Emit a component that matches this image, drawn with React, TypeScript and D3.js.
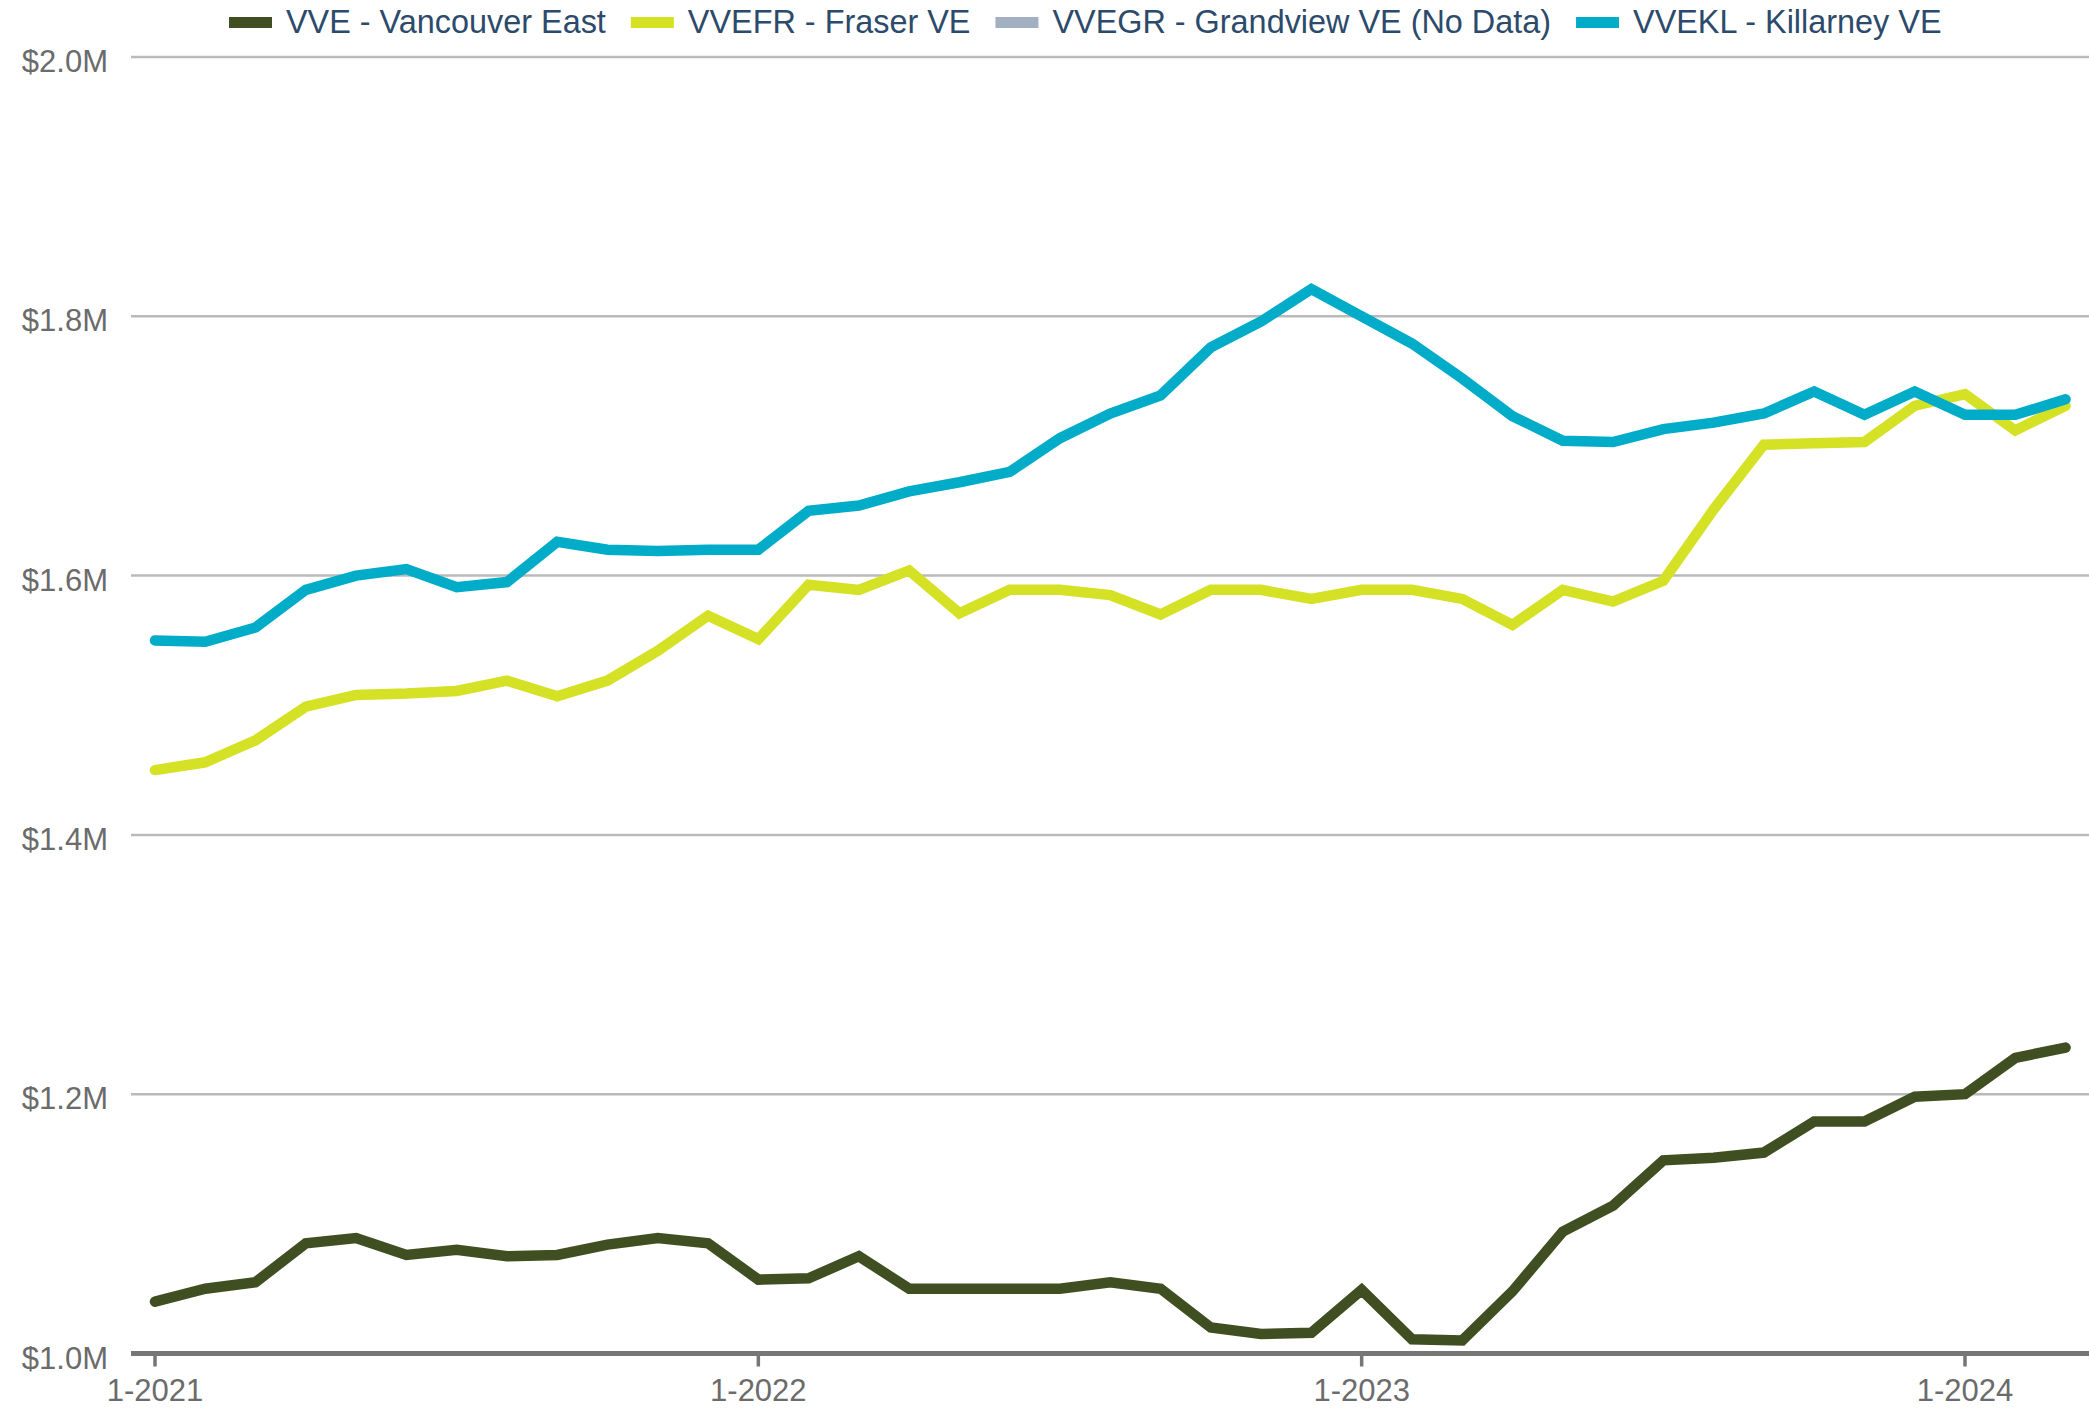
import { useEffect, useRef } from 'react';
import * as d3 from 'd3';

// Monthly benchmark prices, 1-2021 .. 3-2024, in $M
const months = d3.range(39);

const vveValues = [
  1.040, 1.050, 1.055, 1.085, 1.089, 1.076, 1.080, 1.075, 1.076, 1.084, 1.089, 1.085,
  1.057, 1.058, 1.075, 1.050, 1.050, 1.050, 1.050, 1.055, 1.050, 1.020, 1.015, 1.016,
  1.049, 1.011, 1.010, 1.048, 1.094, 1.114, 1.149, 1.151, 1.155, 1.179, 1.179, 1.198,
  1.200, 1.228, 1.236,
];

const vvefrValues = [
  1.450, 1.456, 1.473, 1.499, 1.508, 1.509, 1.511, 1.519, 1.507, 1.519, 1.542, 1.569,
  1.551, 1.593, 1.589, 1.604, 1.571, 1.589, 1.589, 1.585, 1.570, 1.589, 1.589, 1.582,
  1.589, 1.589, 1.582, 1.562, 1.589, 1.580, 1.596, 1.651, 1.701, 1.702, 1.703, 1.731,
  1.740, 1.712, 1.731,
];

const vveklValues = [
  1.550, 1.549, 1.560, 1.589, 1.600, 1.605, 1.591, 1.595, 1.626, 1.620, 1.619, 1.620,
  1.620, 1.650, 1.654, 1.665, 1.672, 1.680, 1.706, 1.725, 1.739, 1.776, 1.796, 1.821,
  1.800, 1.779, 1.752, 1.723, 1.704, 1.703, 1.713, 1.718, 1.725, 1.742, 1.724, 1.742,
  1.724, 1.724, 1.736,
];

const seriesNames = [
  'VVE - Vancouver East',
  'VVEFR - Fraser VE',
  'VVEGR - Grandview VE (No Data)',
  'VVEKL - Killarney VE',
];
const seriesColors = ['#404f21', '#d4e124', '#a3b0c1', '#00acc7'];
const seriesData: (number[] | null)[] = [vveValues, vvefrValues, null, vveklValues];

const yTicks = [1.0, 1.2, 1.4, 1.6, 1.8, 2.0];
const xTicks = [0, 12, 24, 36];
const xTickLabels = ['1-2021', '1-2022', '1-2023', '1-2024'];

const WIDTH = 2089;
const HEIGHT = 1409;
const FONT = '"Liberation Sans", Arial, Helvetica, sans-serif';

export default function App() {
  const svgRef = useRef<SVGSVGElement>(null);

  useEffect(() => {
    if (!svgRef.current) return;
    const svg = d3.select(svgRef.current);
    svg.selectAll('*').remove();

    const plotLeft = 131;
    const plotRight = WIDTH;

    const x = d3.scaleLinear().domain([0, 36]).range([155, 1965]);
    const y = d3.scaleLinear().domain([1.0, 2.0]).range([1353.5, 57]);

    // gridlines
    svg.append('g')
      .selectAll('line')
      .data(yTicks.filter(d => d > 1.0))
      .enter()
      .append('line')
      .attr('x1', plotLeft)
      .attr('x2', plotRight)
      .attr('y1', d => y(d))
      .attr('y2', d => y(d))
      .attr('stroke', '#bababa')
      .attr('stroke-width', 2.5);

    // y labels
    svg.append('g')
      .selectAll('text')
      .data(yTicks)
      .enter()
      .append('text')
      .attr('x', 108)
      .attr('y', d => y(d) + 15)
      .attr('text-anchor', 'end')
      .style('font-family', FONT)
      .style('font-size', '31px')
      .style('fill', '#6b6b6b')
      .text(d => `$${d.toFixed(1)}M`);

    // x axis baseline + ticks
    svg.append('line')
      .attr('x1', plotLeft)
      .attr('x2', plotRight)
      .attr('y1', y(1.0))
      .attr('y2', y(1.0))
      .attr('stroke', '#767676')
      .attr('stroke-width', 5);

    const xg = svg.append('g');
    xg.selectAll('line')
      .data(xTicks)
      .enter()
      .append('line')
      .attr('x1', d => x(d))
      .attr('x2', d => x(d))
      .attr('y1', y(1.0))
      .attr('y2', y(1.0) + 13)
      .attr('stroke', '#767676')
      .attr('stroke-width', 3.5);

    xg.selectAll('text')
      .data(xTicks)
      .enter()
      .append('text')
      .attr('x', d => x(d))
      .attr('y', 1401)
      .attr('text-anchor', 'middle')
      .style('font-family', FONT)
      .style('font-size', '31px')
      .style('fill', '#6b6b6b')
      .text((_, i) => xTickLabels[i]);

    // lines
    const line = d3.line<number>()
      .x((_, i) => x(months[i]))
      .y(d => y(d));

    seriesData.forEach((values, i) => {
      if (!values) return;
      svg.append('path')
        .datum(values)
        .attr('d', line)
        .attr('fill', 'none')
        .attr('stroke', seriesColors[i])
        .attr('stroke-width', 10.5)
        .attr('stroke-linecap', 'round')
        .attr('stroke-linejoin', 'miter');
    });

    // legend
    const legend = svg.append('g');
    let cursor = 229;
    seriesNames.forEach((name, i) => {
      legend.append('rect')
        .attr('x', cursor)
        .attr('y', 17)
        .attr('width', 43)
        .attr('height', 11)
        .attr('fill', seriesColors[i]);
      const t = legend.append('text')
        .attr('x', cursor + 57)
        .attr('y', 33)
        .style('font-family', FONT)
        .style('font-size', '32.4px')
        .style('fill', '#2c4a6b')
        .text(name);
      const w = (t.node() as SVGTextElement).getComputedTextLength();
      cursor += 57 + w + 25;
    });
  }, []);

  return (
    <svg
      ref={svgRef}
      width={WIDTH}
      height={HEIGHT}
      style={{ position: 'absolute', left: 0, top: 0, background: '#fff', display: 'block' }}
    />
  );
}
